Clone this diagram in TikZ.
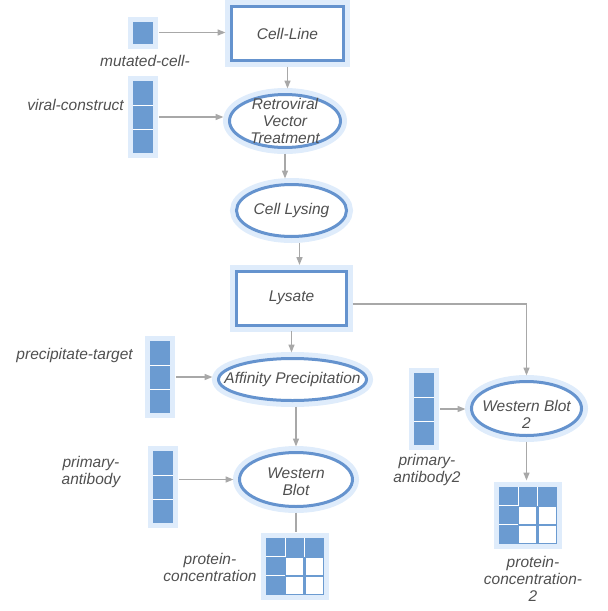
\documentclass[tikz,border=0pt]{standalone}
\usepackage{fontspec}
\setmainfont{Liberation Sans}
\usetikzlibrary{shapes.geometric,arrows.meta}
\definecolor{haloblue}{HTML}{DFECFB}
\definecolor{cellblue}{HTML}{6B9BD1}
\definecolor{edgeblue}{HTML}{6593CE}
\definecolor{textgray}{HTML}{505050}
\definecolor{arrowgray}{HTML}{A8A8A8}
\tikzset{
  lbl/.style={text=textgray, font=\itshape\fontsize{15.5}{17}\selectfont, align=center, inner sep=0pt},
  halo/.style={preaction={draw=haloblue, line width=#1}},
  thing/.style={rectangle, draw=edgeblue, line width=3pt, fill=white, halo=13pt, lbl,
    minimum width=#1, minimum height=54pt, outer sep=0pt},
  proc/.style={ellipse, draw=edgeblue, line width=3pt, fill=white, halo=13pt,
    inner sep=0pt, outer sep=0pt},
  vec/.style={rectangle, fill=cellblue, halo=10pt, inner sep=0pt, outer sep=0pt,
    minimum width=20pt, minimum height=#1},
  tab/.style={rectangle, fill=cellblue, halo=10pt, inner sep=0pt, outer sep=0pt,
    minimum width=58pt, minimum height=57pt},
  cellrule/.style={draw=white, line width=1pt},
  flow/.style={draw=arrowgray, line width=1.5pt, -{Triangle[length=8pt,width=6pt]},
    shorten <=6pt, shorten >=6pt},
  link/.style={draw=arrowgray, line width=1.5pt, shorten <=6pt, shorten >=6pt}
}
\begin{document}
\begin{tikzpicture}[x=1pt,y=-1pt]
\useasboundingbox (0,0) rectangle (608,611);
% workflow steps
\node[thing=112pt] (cl) at (287.5,33.5) {Cell-Line};
\node[proc, minimum width=111pt, minimum height=53pt,
  label={[lbl,name=retl]center:{Retroviral\\Vector\\Treatment}}] (ret) at (285,121) {};
\node[proc, minimum width=110pt, minimum height=52pt,
  label={[lbl,name=lysl]center:Cell Lysing}] (lys) at (291.5,210.5) {};
\node[thing=110pt] (lysate) at (291.5,298) {Lysate};
\node[proc, minimum width=148pt, minimum height=42pt,
  label={[lbl,name=affl]center:Affinity Precipitation}] (aff) at (292.5,379.5) {};
\node[proc, minimum width=113pt, minimum height=54pt,
  label={[lbl,name=wbl,yshift=-2pt]center:{Western\\Blot}}] (wb) at (296,479.5) {};
\node[proc, minimum width=110pt, minimum height=54pt,
  label={[lbl,name=wbbl,yshift=-6pt]center:{Western Blot\\2}}] (wbb) at (526.5,408.5) {};
% materials
\node[vec=22pt] (mut) at (143,32.5) {};
\node[lbl] (mutl) at (145,61) {mutated-cell-};
\node[vec=72pt] (vir) at (143,117) {};
\node[lbl, anchor=east] (virl) at (124,105) {viral-construct};
\node[vec=72pt] (tgt) at (160,377) {};
\node[lbl, anchor=east] (tgtl) at (133,355) {precipitate-target};
\node[vec=72pt] (ab) at (163,487) {};
\node[lbl] (abl) at (91,472) {primary-\\antibody};
\node[vec=72pt] (abb) at (424,409) {};
\node[lbl] (abbl) at (427,470) {primary-\\antibody2};
\node[tab] (pc) at (295,566) {};
\node[lbl] (pcl) at (210,567) {protein-\\concentration};
\node[tab] (pcb) at (528,515) {};
\node[lbl] (pcbl) at (533,579) {protein-\\concentration-\\2};
\foreach \v in {vir,tgt,ab,abb}
  \draw[cellrule] ([yshift=-24pt]\v.north west) -- ([yshift=-24pt]\v.north east)
                  ([yshift=-48pt]\v.north west) -- ([yshift=-48pt]\v.north east);
\foreach \t in {pc,pcb} {
  \foreach \i in {1,2} \foreach \j in {1,2}
    \fill[white] ([shift={(\i*19.33+1,\j*19+1)}]\t.north west) rectangle ++(17,17);
  \draw[cellrule] ([xshift=19.33pt]\t.north west) -- ++(0,19)
                  ([xshift=38.67pt]\t.north west) -- ++(0,19)
                  ([yshift=-19pt]\t.north west) -- ++(19.33,0)
                  ([yshift=-38pt]\t.north west) -- ++(19.33,0);
}
% connectors
\draw[flow] (mut.east) -- (mut.east -| cl.west);
\draw[flow] (cl.south) -- (cl.south |- ret.north);
\draw[flow] (vir.east) -- (vir.east -| ret.west);
\draw[flow] (ret.south) -- (ret.south |- lys.north);
\coordinate (lysout) at ([xshift=8pt]lys.south);
\draw[flow] (lysout) -- (lysout |- lysate.north);
\draw[flow] (lysate.south) -- (lysate.south |- aff.north);
\draw[flow] (tgt.east) -- (tgt.east -| aff.west);
\draw[flow] (wb.north |- aff.south) -- (wb.north);
\draw[flow] (ab.east |- wb.west) -- (wb.west);
\draw[link] (wb.south) -- (wb.south |- pc.north);
\coordinate (lysside) at ([yshift=-6pt]lysate.east);
\draw[flow] (lysside) -| (wbb.north);
\draw[flow] (abb.east) -- (abb.east -| wbb.west);
\draw[flow] (wbb.south) -- (wbb.south |- pcb.north);
\end{tikzpicture}
\end{document}
